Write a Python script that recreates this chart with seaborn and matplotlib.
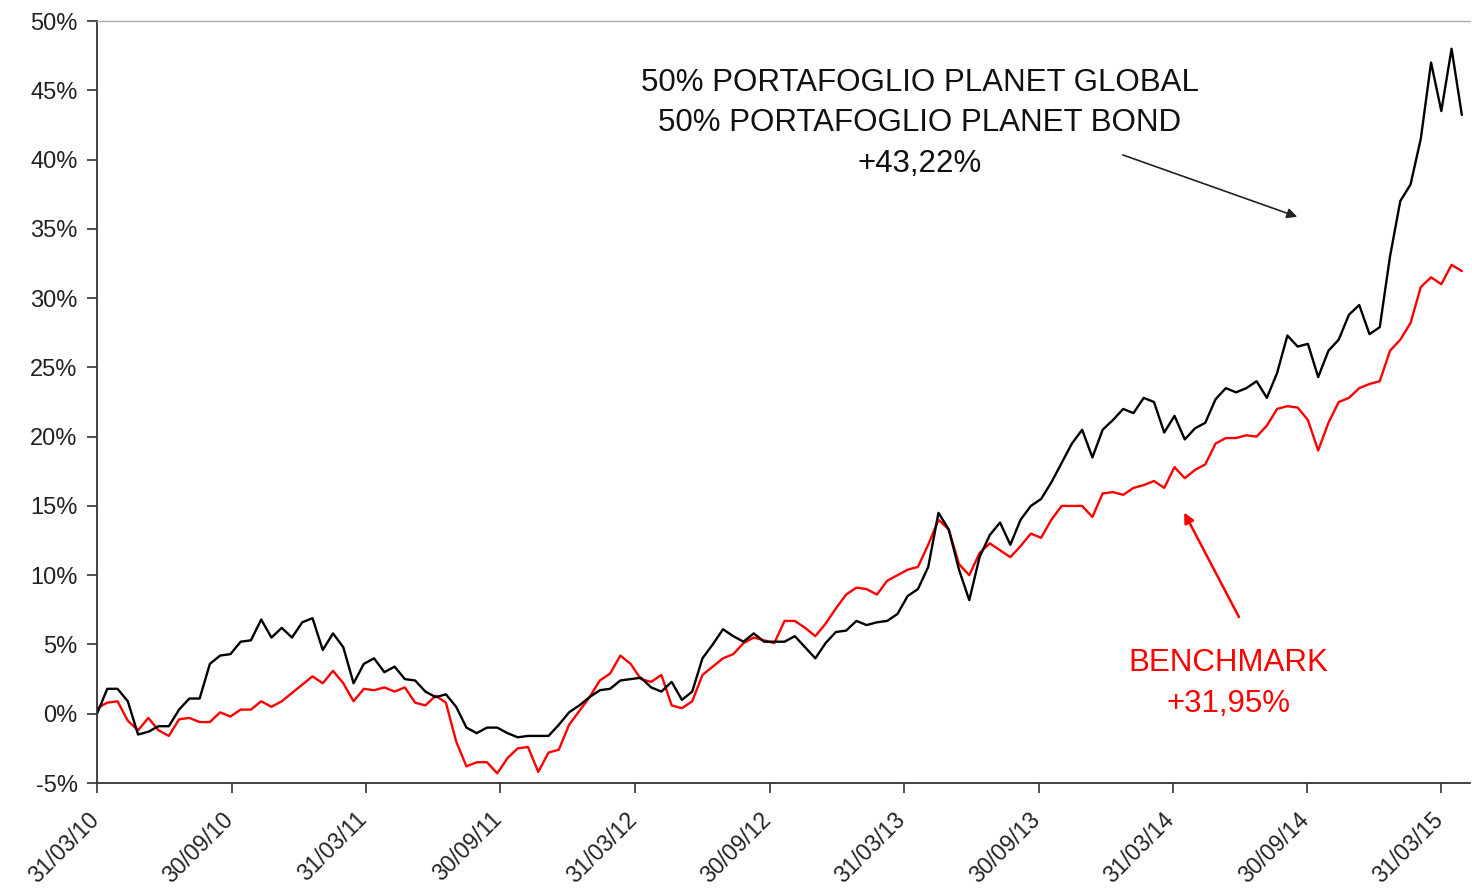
import pandas as pd
import matplotlib
matplotlib.use("Agg")
import matplotlib.pyplot as plt
import matplotlib.transforms as mtransforms
from matplotlib.ticker import FuncFormatter
import seaborn as sns

# Cumulative returns (%), roughly every two weeks
start_date = "2010-03-31"
end_date = "2015-04-28"

portfolio = [
    0.0, 1.8, 1.8, 0.9, -1.5, -1.3, -0.9, -0.9, 0.3, 1.1,
    1.1, 3.6, 4.2, 4.3, 5.2, 5.3, 6.8, 5.5, 6.2, 5.5,
    6.6, 6.9, 4.6, 5.8, 4.8, 2.2, 3.6, 4.0, 3.0, 3.4,
    2.5, 2.4, 1.6, 1.2, 1.4, 0.5, -1.0, -1.4, -1.0, -1.0,
    -1.4, -1.7, -1.6, -1.6, -1.6, -0.8, 0.1, 0.6, 1.2, 1.7,
    1.8, 2.4, 2.5, 2.6, 1.9, 1.6, 2.3, 1.0, 1.6, 4.0,
    5.0, 6.1, 5.6, 5.2, 5.8, 5.2, 5.2, 5.2, 5.6, 4.8,
    4.0, 5.1, 5.9, 6.0, 6.7, 6.4, 6.6, 6.7, 7.2, 8.5,
    9.0, 10.6, 14.5, 13.3, 10.4, 8.2, 11.3, 12.9, 13.8, 12.2,
    14.0, 15.0, 15.5, 16.7, 18.1, 19.5, 20.5, 18.5, 20.5, 21.2,
    22.0, 21.7, 22.8, 22.5, 20.3, 21.5, 19.8, 20.6, 21.0, 22.7,
    23.5, 23.2, 23.5, 24.0, 22.8, 24.6, 27.3, 26.5, 26.7, 24.3,
    26.2, 27.0, 28.8, 29.5, 27.4, 27.9, 33.0, 37.0, 38.2, 41.5,
    47.0, 43.5, 48.0, 43.22,
]

benchmark = [
    0.4, 0.8, 0.9, -0.5, -1.2, -0.3, -1.2, -1.6, -0.4, -0.3,
    -0.6, -0.6, 0.1, -0.2, 0.3, 0.3, 0.9, 0.5, 0.9, 1.5,
    2.1, 2.7, 2.2, 3.1, 2.2, 0.9, 1.8, 1.7, 1.9, 1.6,
    1.9, 0.8, 0.6, 1.3, 0.8, -2.0, -3.8, -3.5, -3.5, -4.3,
    -3.2, -2.5, -2.4, -4.2, -2.8, -2.6, -0.8, 0.2, 1.2, 2.4,
    2.9, 4.2, 3.6, 2.5, 2.3, 2.8, 0.6, 0.4, 0.9, 2.8,
    3.4, 4.0, 4.3, 5.1, 5.5, 5.3, 5.1, 6.7, 6.7, 6.2,
    5.6, 6.5, 7.6, 8.6, 9.1, 9.0, 8.6, 9.6, 10.0, 10.4,
    10.6, 12.2, 14.0, 13.3, 10.8, 10.0, 11.6, 12.3, 11.8, 11.3,
    12.1, 13.0, 12.7, 14.0, 15.0, 15.0, 15.0, 14.2, 15.9, 16.0,
    15.8, 16.3, 16.5, 16.8, 16.3, 17.8, 17.0, 17.6, 18.0, 19.5,
    19.9, 19.9, 20.1, 20.0, 20.8, 22.0, 22.2, 22.1, 21.2, 19.0,
    21.0, 22.5, 22.8, 23.5, 23.8, 24.0, 26.2, 27.0, 28.2, 30.8,
    31.5, 31.0, 32.4, 31.95,
]

tick_dates = ["2010-03-31", "2010-09-30", "2011-03-31", "2011-09-30",
              "2012-03-31", "2012-09-30", "2013-03-31", "2013-09-30",
              "2014-03-31", "2014-09-30", "2015-03-31"]
tick_labels = ["31/03/10", "30/09/10", "31/03/11", "30/09/11", "31/03/12",
               "30/09/12", "31/03/13", "30/09/13", "31/03/14", "30/09/14",
               "31/03/15"]

dates = pd.date_range(start_date, end_date, periods=len(portfolio))
df = pd.DataFrame({"date": dates, "Portafoglio": portfolio, "Benchmark": benchmark})
long_df = df.melt(id_vars="date", var_name="serie", value_name="rend")

sns.set_style("white")
plt.rcParams["font.family"] = ["Liberation Sans", "DejaVu Sans"]

fig = plt.figure(figsize=(14.72, 8.9), dpi=100)
ax = fig.add_axes([0.0659, 0.1202, 0.9327, 0.8562])

sns.lineplot(data=long_df, x="date", y="rend", hue="serie",
             palette={"Portafoglio": "black", "Benchmark": "#ff0000"},
             hue_order=["Benchmark", "Portafoglio"],
             linewidth=1.7, legend=False, ax=ax)

ax.set_ylim(-5, 50)
ax.set_yticks(range(-5, 51, 5))
ax.yaxis.set_major_formatter(FuncFormatter(lambda v, p: f"{v:.0f}%"))
ax.set_xlim(pd.Timestamp("2010-03-31"), pd.Timestamp("2015-05-09"))
ax.set_xticks([pd.Timestamp(d) for d in tick_dates])
ax.set_xticklabels(tick_labels, rotation=45, ha="right", rotation_mode="anchor")
ax.set_xlabel("")
ax.set_ylabel("")

ax.tick_params(axis="both", direction="out", length=7, width=1.2, color="#333333",
               labelcolor="#222222", left=True, bottom=True)
ax.tick_params(axis="x", labelsize=16.5, pad=8)
ax.tick_params(axis="y", labelsize=17, pad=7)

# nudge the rotated date labels a little left and down
shift = mtransforms.ScaledTranslation(-10 / 100, -4 / 100, fig.dpi_scale_trans)
for lbl in ax.get_xticklabels():
    lbl.set_transform(lbl.get_transform() + shift)

for side in ["left", "bottom"]:
    ax.spines[side].set_color("#333333")
    ax.spines[side].set_linewidth(1.3)
ax.spines["top"].set_color("#aaaaaa")
ax.spines["top"].set_linewidth(1.0)
ax.spines["right"].set_visible(False)

# annotations
ax.text(0.5994, 0.866, "50% PORTAFOGLIO PLANET GLOBAL\n50% PORTAFOGLIO PLANET BOND\n+43,22%",
        transform=ax.transAxes, ha="center", va="center", fontsize=22.5,
        color="#111111", linespacing=1.46)
ax.annotate("", xy=(pd.Timestamp("2014-09-20"), 35.8), xytext=(pd.Timestamp("2014-01-19"), 40.4),
            arrowprops=dict(arrowstyle="-|>", color="#222222", lw=1.2, mutation_scale=15))

ax.text(pd.Timestamp("2014-06-15"), 2.2, "BENCHMARK\n+31,95%", ha="center", va="center",
        fontsize=22.5, color="#ff0000", linespacing=1.46)
ax.annotate("", xy=(pd.Timestamp("2014-04-14"), 14.7), xytext=(pd.Timestamp("2014-07-01"), 6.8),
            arrowprops=dict(arrowstyle="-|>", color="#ff0000", lw=1.8, mutation_scale=15))

fig.savefig("out.png", dpi=100)
